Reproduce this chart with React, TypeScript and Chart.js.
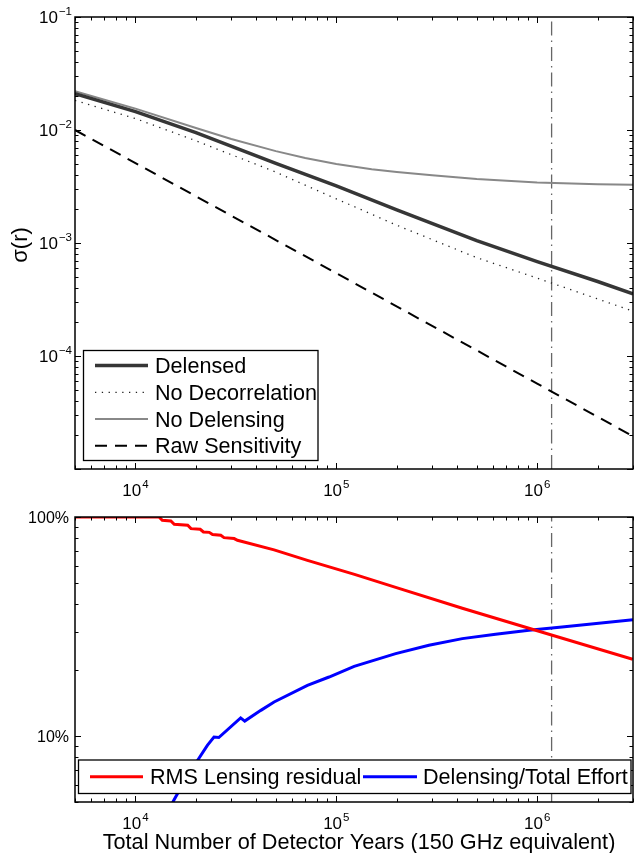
import React, { useEffect, useRef } from 'react';
import { Chart, registerables } from 'chart.js';

Chart.register(...registerables);

const FONT = '"Liberation Sans", Arial, Helvetica, sans-serif';
const W = 634;
const H = 853;

// ---------- top panel: sigma(r) ----------
const sigmaX = [5000, 10000, 20000, 50000, 100000, 200000, 500000, 1000000, 2000000, 3000000];
const delensedY = [0.021, 0.01453, 0.009487, 0.005054, 0.0032, 0.001966, 0.001048, 0.000684, 0.000456, 0.000354];
const noDecorrelationY = [0.01828, 0.01262, 0.00803, 0.00424, 0.00246, 0.001436, 0.000742, 0.000489, 0.00032, 0.000249];
const noDelensingX = [5000, 10000, 20000, 30000, 50000, 70000, 100000, 150000, 200000, 300000, 500000, 1000000, 2000000, 3000000];
const noDelensingY = [0.02203, 0.01547, 0.0104, 0.00833, 0.0065, 0.00565, 0.005, 0.0045, 0.00425, 0.00397, 0.00368, 0.00343, 0.00331, 0.00327];
const rawX = [5000, 10000, 100000, 1000000, 3000000];
const rawY = [0.01, 0.00509, 0.00054, 0.000057, 0.0000195];
const markerX = 1180000;

const topLegend = ['Delensed', 'No Decorrelation', 'No Delensing', 'Raw Sensitivity'];
const topYTicks = [1e-1, 1e-2, 1e-3, 1e-4];
const topYExps = ['\u22121', '\u22122', '\u22123', '\u22124'];
const xTicks = [1e4, 1e5, 1e6];
const xExps = ['4', '5', '6'];

// ---------- bottom panel: fractions ----------
const residualX = [5000, 13100, 13600, 15000, 15600, 18200, 18900, 21000, 21800, 23300, 24200, 26600, 27600, 31000, 32200, 49000, 71800, 123200, 197500, 424000, 982000, 2990000];
const residualY = [1.0, 1.0, 0.966, 0.959, 0.926, 0.917, 0.885, 0.879, 0.854, 0.851, 0.831, 0.825, 0.805, 0.797, 0.783, 0.708, 0.634, 0.547, 0.4775, 0.383, 0.304, 0.224];
const effortX = [14000, 15500, 17500, 20400, 22800, 24600, 26000, 33400, 35000, 42100, 49000, 71800, 92000, 122700, 197500, 289000, 424000, 621000, 910000, 1330000, 3000000];
const effortY = [0.042, 0.0508, 0.062, 0.0775, 0.0907, 0.099, 0.0985, 0.121, 0.117, 0.131, 0.143, 0.1704, 0.186, 0.208, 0.2378, 0.2596, 0.2785, 0.2913, 0.304, 0.3146, 0.34];
const bottomLegend = ['RMS Lensing residual', 'Delensing/Total Effort'];
const bottomYTicks = [1, 0.1];
const bottomYLabels = ['100%', '10%'];

const xTitle = 'Total Number of Detector Years (150 GHz equivalent)';
const yTitleTop = '\u03c3(r)';

const zip = (xs: number[], ys: number[]) => xs.map((x, i) => ({ x, y: ys[i] }));

function logTicks(min: number, max: number) {
  const out: { v: number; major: boolean }[] = [];
  for (let d = Math.floor(Math.log10(min)) - 1; d <= Math.ceil(Math.log10(max)); d++) {
    for (let m = 1; m <= 9; m++) {
      const v = m * Math.pow(10, d);
      if (v >= min * 0.999 && v <= max * 1.001) out.push({ v, major: m === 1 });
    }
  }
  return out;
}

function drawPow(ctx: CanvasRenderingContext2D, exp: string, x: number, base: number, align: 'center' | 'right') {
  ctx.font = `17px ${FONT}`;
  const bw = ctx.measureText('10').width;
  ctx.font = `11.5px ${FONT}`;
  const ew = ctx.measureText(exp).width;
  const total = bw + 1 + ew;
  const x0 = align === 'center' ? x - total / 2 : x - total;
  ctx.textAlign = 'left';
  ctx.textBaseline = 'alphabetic';
  ctx.font = `17px ${FONT}`;
  ctx.fillText('10', x0, base);
  ctx.font = `11.5px ${FONT}`;
  ctx.fillText(exp, x0 + bw + 1, base - 8);
}

function line(ctx: CanvasRenderingContext2D, x1: number, y1: number, x2: number, y2: number) {
  ctx.beginPath();
  ctx.moveTo(x1, y1);
  ctx.lineTo(x2, y2);
  ctx.stroke();
}

function drawFrame(chart: any, xMin: number, xMax: number, yMin: number, yMax: number) {
  const { ctx, chartArea: a } = chart;
  const xs = chart.scales.x;
  const ys = chart.scales.y;
  ctx.save();
  ctx.strokeStyle = '#000';
  ctx.setLineDash([]);
  ctx.lineWidth = 1;
  for (const t of logTicks(xMin, xMax)) {
    const px = Math.round(xs.getPixelForValue(t.v)) + 0.5;
    const L = t.major ? 6 : 3.5;
    line(ctx, px, a.bottom, px, a.bottom - L);
    line(ctx, px, a.top, px, a.top + L);
  }
  for (const t of logTicks(yMin, yMax)) {
    const py = Math.round(ys.getPixelForValue(t.v)) + 0.5;
    const L = t.major ? 6 : 3.5;
    line(ctx, a.left, py, a.left + L, py);
    line(ctx, a.right, py, a.right - L, py);
  }
  ctx.lineWidth = 1.5;
  ctx.strokeRect(a.left, a.top, a.right - a.left, a.bottom - a.top);
  ctx.restore();
}

function legendSample(ctx: CanvasRenderingContext2D, ds: any, x1: number, x2: number, y: number) {
  ctx.save();
  ctx.strokeStyle = ds.borderColor;
  ctx.lineWidth = ds.borderWidth;
  ctx.setLineDash(ds.borderDash || []);
  line(ctx, x1, y, x2, y);
  ctx.restore();
}

const LEGEND_FONT = `21.6px ${FONT}`;

const topPlugin = {
  id: 'topFrame',
  afterDraw(chart: any) {
    const { ctx, chartArea: a } = chart;
    drawFrame(chart, 5000, 3e6, 1e-5, 1e-1);
    ctx.save();
    ctx.fillStyle = '#000';
    const xs = chart.scales.x;
    const ys = chart.scales.y;
    xTicks.forEach((v, i) => drawPow(ctx, xExps[i], xs.getPixelForValue(v), a.bottom + 27, 'center'));
    topYTicks.forEach((v, i) => drawPow(ctx, topYExps[i], 72, ys.getPixelForValue(v) + 6, 'right'));
    // y title
    ctx.save();
    ctx.translate(27, 245);
    ctx.rotate(-Math.PI / 2);
    ctx.font = `22px ${FONT}`;
    ctx.textAlign = 'center';
    ctx.textBaseline = 'alphabetic';
    ctx.fillText(yTitleTop, 0, 0);
    ctx.restore();
    // legend
    const bx = 83.5, by = 350.5, bw = 234.5, bh = 110;
    ctx.fillStyle = '#fff';
    ctx.fillRect(bx, by, bw, bh);
    ctx.strokeStyle = '#000';
    ctx.lineWidth = 1.3;
    ctx.setLineDash([]);
    ctx.strokeRect(bx, by, bw, bh);
    const rows = [365.5, 392.3, 419, 445.7];
    ctx.font = LEGEND_FONT;
    ctx.textAlign = 'left';
    ctx.textBaseline = 'alphabetic';
    topLegend.forEach((name, i) => {
      legendSample(ctx, chart.data.datasets[i], 95, 148, rows[i]);
      ctx.fillStyle = '#000';
      ctx.fillText(name, 155, rows[i] + 7.5);
    });
    ctx.restore();
  },
};

const bottomPlugin = {
  id: 'bottomFrame',
  afterDraw(chart: any) {
    const { ctx, chartArea: a } = chart;
    drawFrame(chart, 5000, 3e6, 0.05, 1);
    ctx.save();
    ctx.fillStyle = '#000';
    const xs = chart.scales.x;
    const ys = chart.scales.y;
    xTicks.forEach((v, i) => drawPow(ctx, xExps[i], xs.getPixelForValue(v), a.bottom + 27, 'center'));
    ctx.font = `16px ${FONT}`;
    ctx.textAlign = 'right';
    ctx.textBaseline = 'alphabetic';
    bottomYTicks.forEach((v, i) => ctx.fillText(bottomYLabels[i], 69, ys.getPixelForValue(v) + 6));
    // x title
    ctx.font = `21.7px ${FONT}`;
    ctx.textAlign = 'center';
    ctx.fillText(xTitle, 359, 849);
    // legend
    const bx = 78.5, by = 760, bw = 552.5, bh = 33.5;
    ctx.fillStyle = '#fff';
    ctx.fillRect(bx, by, bw, bh);
    ctx.strokeStyle = '#000';
    ctx.lineWidth = 1.3;
    ctx.setLineDash([]);
    ctx.strokeRect(bx, by, bw, bh);
    const cy = 776.7;
    ctx.font = LEGEND_FONT;
    ctx.textAlign = 'left';
    legendSample(ctx, chart.data.datasets[0], 90, 143, cy);
    ctx.fillStyle = '#000';
    ctx.fillText(bottomLegend[0], 150, cy + 7.5);
    legendSample(ctx, chart.data.datasets[1], 363, 417, cy);
    ctx.fillStyle = '#000';
    ctx.fillText(bottomLegend[1], 423, cy + 7.5);
    ctx.restore();
  },
};

const common = (pad: any, yMin: number, yMax: number) => ({
  responsive: false,
  animation: false as const,
  devicePixelRatio: 1,
  events: [] as any[],
  layout: { padding: pad },
  scales: {
    x: { type: 'logarithmic' as const, min: 5000, max: 3e6, display: false },
    y: { type: 'logarithmic' as const, min: yMin, max: yMax, display: false },
  },
  plugins: { legend: { display: false }, tooltip: { enabled: false } },
  elements: { point: { radius: 0 }, line: { tension: 0 } },
});

export default function App() {
  const topRef = useRef<HTMLCanvasElement>(null);
  const botRef = useRef<HTMLCanvasElement>(null);

  useEffect(() => {
    const top = new Chart(topRef.current as HTMLCanvasElement, {
      type: 'line',
      data: {
        datasets: [
          { label: topLegend[0], data: zip(sigmaX, delensedY), borderColor: '#363636', borderWidth: 3.5, pointRadius: 0, fill: false },
          { label: topLegend[1], data: zip(sigmaX, noDecorrelationY), borderColor: '#222222', borderWidth: 1.3, borderDash: [1.3, 5.5], pointRadius: 0, fill: false },
          { label: topLegend[2], data: zip(noDelensingX, noDelensingY), borderColor: '#888888', borderWidth: 2, pointRadius: 0, fill: false },
          { label: topLegend[3], data: zip(rawX, rawY), borderColor: '#000000', borderWidth: 2, borderDash: [12, 8], pointRadius: 0, fill: false },
          { label: 'marker', data: [{ x: markerX, y: 1e-5 }, { x: markerX, y: 1e-1 }], borderColor: '#666666', borderWidth: 1.3, borderDash: [14, 5, 1.5, 5], pointRadius: 0, fill: false },
        ],
      },
      options: common({ left: 75, top: 17, right: 1, bottom: H - 469 }, 1e-5, 1e-1) as any,
      plugins: [topPlugin],
    });
    const bottom = new Chart(botRef.current as HTMLCanvasElement, {
      type: 'line',
      data: {
        datasets: [
          { label: bottomLegend[0], data: zip(residualX, residualY), borderColor: '#ff0000', borderWidth: 3, pointRadius: 0, fill: false },
          { label: bottomLegend[1], data: zip(effortX, effortY), borderColor: '#0000ff', borderWidth: 3, pointRadius: 0, fill: false },
          { label: 'marker', data: [{ x: markerX, y: 0.05 }, { x: markerX, y: 1 }], borderColor: '#666666', borderWidth: 1.3, borderDash: [14, 5, 1.5, 5], pointRadius: 0, fill: false },
        ],
      },
      options: common({ left: 75, top: 517, right: 1, bottom: H - 802 }, 0.05, 1) as any,
      plugins: [bottomPlugin],
    });
    return () => {
      top.destroy();
      bottom.destroy();
    };
  }, []);

  const cs: React.CSSProperties = { position: 'absolute', left: 0, top: 0, width: W, height: H };
  return (
    <div style={{ position: 'absolute', left: 0, top: 0, width: W, height: H, background: '#fff', overflow: 'hidden' }}>
      <canvas ref={topRef} width={W} height={H} style={cs} />
      <canvas ref={botRef} width={W} height={H} style={cs} />
    </div>
  );
}
